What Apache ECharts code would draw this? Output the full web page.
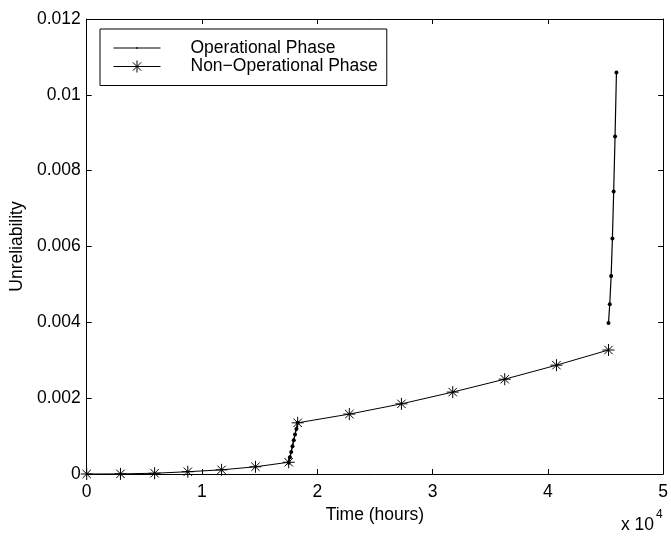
<!DOCTYPE html>
<html>
<head>
<meta charset="utf-8">
<script src="https://cdn.jsdelivr.net/npm/echarts@6/dist/echarts.min.js"></script>
<style>
  html, body { margin: 0; padding: 0; background: #fff; }
  #main { width: 671px; height: 536px; }
</style>
</head>
<body>
<div id="main"></div>
<script>
// non-operational phase (stars)
const nonOpTime = [0, 2930, 5890, 8770, 11700, 14640, 17520, 18300, 22780, 27300, 31750, 36260, 40750, 45260];
const nonOpValue = [0, 0.000003, 0.00002, 0.00006, 0.00011, 0.00019, 0.00031, 0.00135, 0.00158, 0.00185, 0.00216, 0.0025, 0.00287, 0.00327];
// operational phase (dots), two separate stretches
const opTime1 = [17520, 17630, 17740, 17850, 17960, 18070, 18190, 18300];
const opValue1 = [0.0003, 0.00044, 0.00058, 0.00073, 0.00089, 0.00104, 0.00119, 0.00135];
const opTime2 = [45260, 45370, 45490, 45600, 45710, 45830, 45950];
const opValue2 = [0.00398, 0.00448, 0.00522, 0.00621, 0.00745, 0.0089, 0.01059];
const xTicks = [0, 1, 2, 3, 4, 5];

const font = 'Liberation Sans, Arial, Helvetica, sans-serif';
const fs = 17.5;
const starPath = 'path://M0,-6L0,6M-6,0L6,0M-4.2,-4.2L4.2,4.2M-4.2,4.2L4.2,-4.2';

function pairs(xs, ys) {
  return xs.map((x, i) => [x, ys[i]]);
}

const chart = echarts.init(document.getElementById('main'));
chart.setOption({
  backgroundColor: '#fff',
  animation: false,
  textStyle: { fontFamily: font, color: '#000' },
  grid: { left: 85, top: 19, right: 6, bottom: 62 },
  legend: {
    orient: 'vertical',
    left: 100,
    top: 29,
    padding: [10, 9, 10, 11],
    borderColor: '#000',
    borderWidth: 1,
    itemWidth: 47,
    itemHeight: 12,
    itemGap: 0.5,
    textStyle: { fontSize: fs, lineHeight: 15, fontFamily: font, color: '#000', padding: [0, 0, 0, 25] },
    data: [
      {
        name: 'Operational Phase',
        icon: 'path://M0,6L47,6M23.5,5L23.5,7M22.5,6L24.5,6',
        itemStyle: { color: 'none', borderColor: '#000', borderWidth: 1.2 }
      },
      {
        name: 'Non\u2212Operational Phase',
        icon: 'path://M0,6L47,6M23.5,0L23.5,12M17.5,6L29.5,6M19.3,1.8L27.7,10.2M19.3,10.2L27.7,1.8',
        itemStyle: { color: 'none', borderColor: '#000', borderWidth: 1 }
      }
    ]
  },
  xAxis: [
    {
      type: 'value',
      min: 0,
      max: 50000,
      interval: 10000,
      axisLine: { lineStyle: { color: '#000', width: 1 } },
      axisTick: { inside: true, length: 5, lineStyle: { color: '#000' } },
      axisLabel: {
        fontSize: fs, color: '#000', margin: 9,
        formatter: v => String(xTicks[Math.round(v / 10000)])
      },
      splitLine: { show: false },
      name: 'Time (hours)',
      nameLocation: 'middle',
      nameGap: 31,
      nameTextStyle: { fontSize: fs, color: '#000' }
    },
    {
      type: 'value',
      position: 'top',
      min: 0,
      max: 50000,
      interval: 10000,
      axisLine: { show: true, onZero: false, lineStyle: { color: '#000', width: 1 } },
      axisTick: { inside: true, length: 5, lineStyle: { color: '#000' } },
      axisLabel: { show: false },
      splitLine: { show: false }
    }
  ],
  yAxis: [
    {
      type: 'value',
      min: 0,
      max: 0.012,
      interval: 0.002,
      axisLine: { show: true, lineStyle: { color: '#000', width: 1 } },
      axisTick: { show: true, inside: true, length: 5, lineStyle: { color: '#000' } },
      axisLabel: {
        fontSize: fs, color: '#000', margin: 6,
        formatter: v => String(parseFloat(v.toFixed(4)))
      },
      splitLine: { show: false },
      name: 'Unreliability',
      nameLocation: 'middle',
      nameGap: 57,
      nameTextStyle: { fontSize: fs, color: '#000' }
    },
    {
      type: 'value',
      position: 'right',
      min: 0,
      max: 0.012,
      interval: 0.002,
      axisLine: { show: true, onZero: false, lineStyle: { color: '#000', width: 1 } },
      axisTick: { show: true, inside: true, length: 5, lineStyle: { color: '#000' } },
      axisLabel: { show: false },
      splitLine: { show: false }
    }
  ],
  graphic: [
    {
      type: 'text', right: 17, top: 516,
      style: { text: 'x 10', fontSize: fs, fontFamily: font, fill: '#000' }
    },
    {
      type: 'text', left: 656, top: 509,
      style: { text: '4', fontSize: 12, fontFamily: font, fill: '#000' }
    }
  ],
  series: [
    {
      name: 'Non\u2212Operational Phase',
      type: 'line',
      data: pairs(nonOpTime, nonOpValue),
      symbol: starPath,
      symbolSize: 12,
      showAllSymbol: true,
      lineStyle: { color: '#000', width: 1 },
      itemStyle: { color: 'none', borderColor: '#000', borderWidth: 1 },
      z: 2
    },
    {
      name: 'Operational Phase',
      type: 'line',
      data: pairs(opTime1, opValue1),
      symbol: 'circle',
      symbolSize: 4,
      showAllSymbol: true,
      lineStyle: { color: '#000', width: 1.2 },
      itemStyle: { color: '#000' },
      z: 3
    },
    {
      name: 'Operational Phase',
      type: 'line',
      data: pairs(opTime2, opValue2),
      symbol: 'circle',
      symbolSize: 4,
      showAllSymbol: true,
      lineStyle: { color: '#000', width: 1.2 },
      itemStyle: { color: '#000' },
      z: 3
    }
  ]
});
</script>
</body>
</html>
